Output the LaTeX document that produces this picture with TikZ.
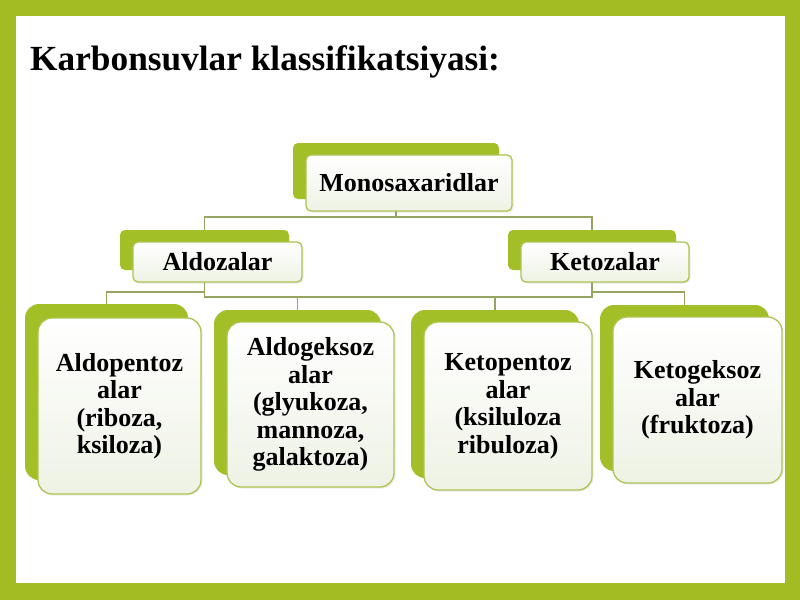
\documentclass[tikz,border=0pt]{standalone}
\usepackage{fontspec}
\setmainfont{Liberation Serif}
\usetikzlibrary{shadows}
\definecolor{frameg}{RGB}{164,188,36}
\definecolor{panelg}{RGB}{162,191,40}
\definecolor{boxline}{RGB}{172,196,80}
\definecolor{boxfill}{RGB}{238,242,228}
\definecolor{connc}{RGB}{150,166,96}
\pgfdeclarelayer{bg}
\pgfdeclarelayer{conn}
\pgfsetlayers{bg,conn,main}
\tikzset{
  backpanel/.style={fill=panelg, draw=none, inner sep=0pt},
  frontbox/.style={draw=boxline, line width=1.3pt, top color=white, bottom color=boxfill,
    inner sep=2pt, align=center, text=black,
    font=\fontsize{26}{27.5}\selectfont\bfseries,
    drop shadow={shadow xshift=1.5pt, shadow yshift=-1.5pt, opacity=0.15}},
  smallr/.style={rounded corners=5pt},
  bigr/.style={rounded corners=14pt},
  connector/.style={draw=connc, line width=1.2pt},
  titletext/.style={anchor=base west, inner sep=0pt, font=\fontsize{35.3}{40}\selectfont\bfseries}
}
\begin{document}
\begin{tikzpicture}[x=1pt,y=-1pt]
\useasboundingbox (0,0) rectangle (800,600);
\begin{pgfonlayer}{bg}
\fill[frameg] (0,0) rectangle (800,600);
\fill[white] (16,16) rectangle (785,583);
\end{pgfonlayer}

\node[titletext] (title) at (30,70) {Karbonsuvlar klassifikatsiyasi:};

% level 0
\node[backpanel, smallr, minimum width=206pt, minimum height=56pt] (monoB) at (396,171) {};
\node[frontbox, smallr, minimum width=206pt, minimum height=56pt] (mono) at (409,183) {Monosaxaridlar};

% level 1
\node[backpanel, smallr, minimum width=169pt, minimum height=40pt] (aldzB) at (204.5,250) {};
\node[frontbox, smallr, minimum width=169pt, minimum height=40pt] (aldz) at (217.5,262) {Aldozalar};
\node[backpanel, smallr, minimum width=168pt, minimum height=40pt] (ketzB) at (592,250) {};
\node[frontbox, smallr, minimum width=168pt, minimum height=40pt] (ketz) at (605,262) {Ketozalar};

% level 2
\node[backpanel, bigr, minimum width=163pt, minimum height=176pt] (apentB) at (106.5,392) {};
\node[frontbox, bigr, minimum width=163pt, minimum height=176pt] (apent) at (119.5,406) {Aldopentoz\\alar\\(riboza,\\ksiloza)};
\node[backpanel, bigr, minimum width=167pt, minimum height=165pt] (agekB) at (297.5,392.5) {};
\node[frontbox, bigr, minimum width=167pt, minimum height=165pt] (agek) at (310.5,404.5) {Aldogeksoz\\alar\\(glyukoza,\\mannoza,\\galaktoza)};
\node[backpanel, bigr, minimum width=168pt, minimum height=168pt] (kpentB) at (495,394) {};
\node[frontbox, bigr, minimum width=168pt, minimum height=168pt] (kpent) at (508,406) {Ketopentoz\\alar\\(ksiluloza\\ribuloza)};
\node[backpanel, bigr, minimum width=169pt, minimum height=166pt] (kgekB) at (684.5,388) {};
\node[frontbox, bigr, minimum width=169pt, minimum height=166pt] (kgek) at (697.5,400) {Ketogeksoz\\alar\\(fruktoza)};

\begin{pgfonlayer}{conn}
\coordinate (j1) at (0,217);
\coordinate (j2) at (0,292);
\coordinate (j3) at (0,297);
\draw[connector] (monoB.south) -- (monoB.south |- j1) -| (aldzB.north);
\draw[connector] (monoB.south |- j1) -| (ketzB.north);
\draw[connector] (aldzB.south) -- (aldzB.south |- j2) -| (apentB.north);
\draw[connector] (aldzB.south) -- (aldzB.south |- j3) -- (ketzB.south |- j3) -- (ketzB.south);
\draw[connector] (agekB.north |- j3) -- (agekB.north);
\draw[connector] (kpentB.north |- j3) -- (kpentB.north);
\draw[connector] (ketzB.south) -- (ketzB.south |- j2) -| (kgekB.north);
\end{pgfonlayer}
\end{tikzpicture}
\end{document}
